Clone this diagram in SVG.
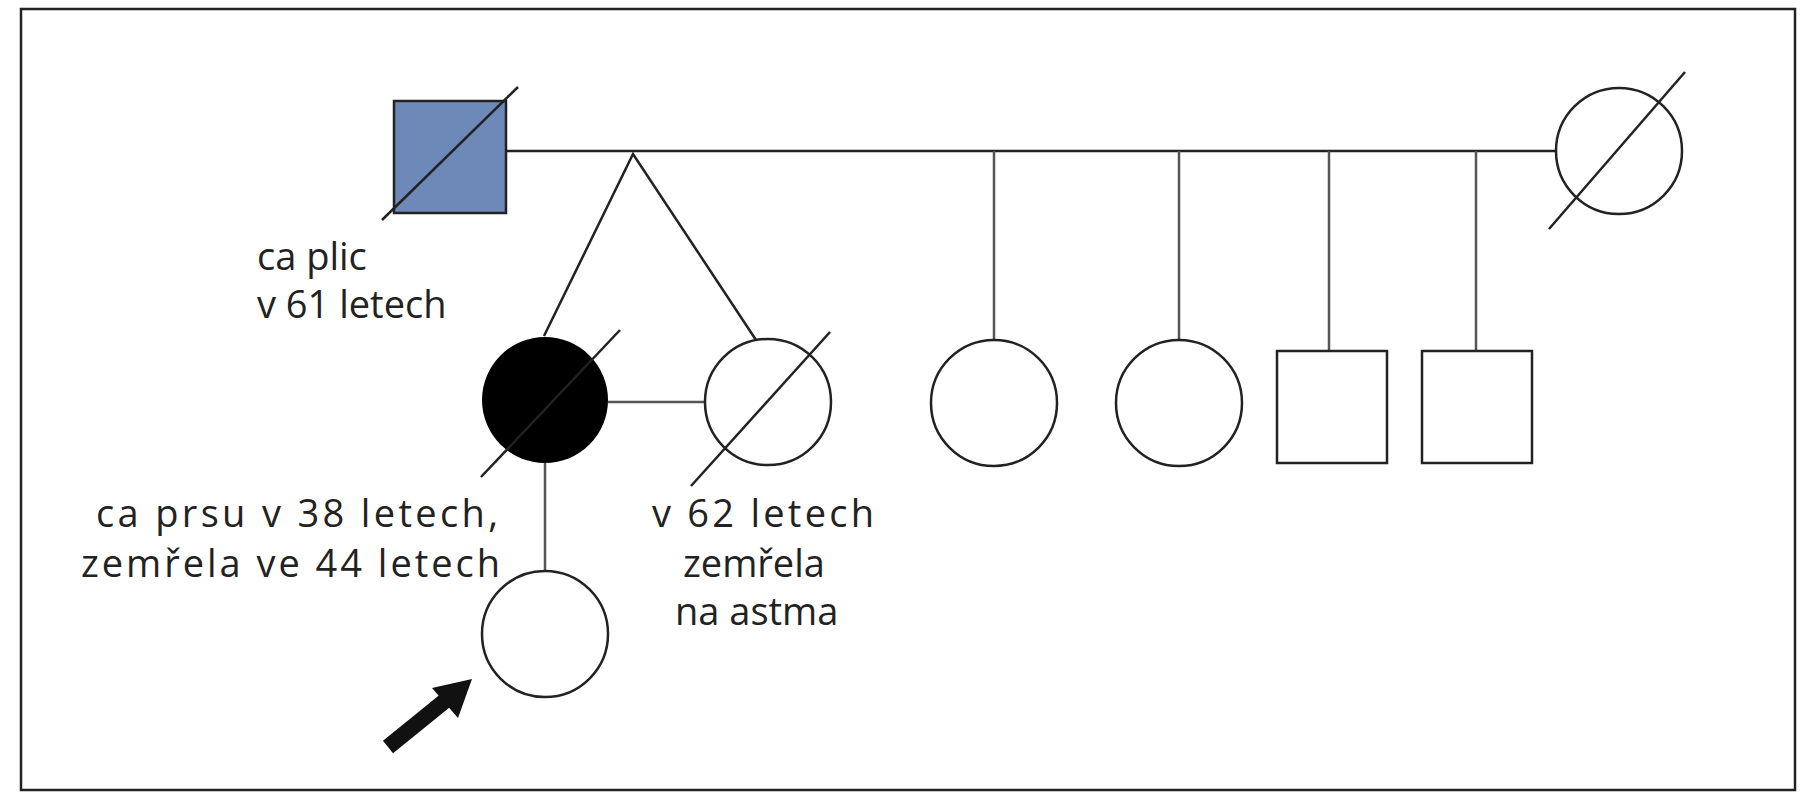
<svg xmlns="http://www.w3.org/2000/svg" width="1816" height="800" viewBox="0 0 1816 800">
<style>
.s{fill:#fff;stroke:#222;stroke-width:2.5}
.c{stroke:#555;stroke-width:2.5;fill:none}
.k{stroke:#222;stroke-width:2.5;fill:none}
text{font-family:"Open Sans","Liberation Sans",sans-serif;font-size:38px;fill:#222}
</style>
<rect x="0" y="0" width="1816" height="800" fill="#fff"/>
<rect x="21" y="9" width="1774" height="781" fill="none" stroke="#222" stroke-width="2.5"/>
<g id="connectors">
<line class="k" x1="506" y1="151" x2="1556" y2="151"/>
<polyline class="k" points="544,336 633,154 758,343"/>
<line class="c" x1="608" y1="402" x2="705" y2="402"/>
<line class="c" x1="545" y1="463" x2="545" y2="571"/>
<line class="c" x1="994" y1="151" x2="994" y2="340"/>
<line class="c" x1="1179" y1="151" x2="1179" y2="340"/>
<line class="c" x1="1329" y1="151" x2="1329" y2="351"/>
<line class="c" x1="1476" y1="151" x2="1476" y2="351"/>
</g>
<g id="father">
<rect x="394" y="101" width="112" height="112" fill="#6c89b8" stroke="#222" stroke-width="2.5"/>
<line class="k" x1="382" y1="220" x2="518" y2="87"/>
<text x="257" y="270">ca plic</text>
<text x="257" y="318">v 61 letech</text>
</g>
<g id="mother">
<ellipse class="s" cx="1619" cy="151" rx="63" ry="63"/>
<line class="k" x1="1549" y1="229" x2="1685" y2="72"/>
</g>
<g id="twin1">
<circle cx="545" cy="400" r="63" fill="#000"/>
<line class="k" x1="481" y1="477" x2="620" y2="330"/>
<text x="96" y="527" textLength="402">ca prsu v 38 letech,</text>
<text x="81" y="577" textLength="419">zemřela ve 44 letech</text>
</g>
<g id="twin2">
<circle class="s" cx="768" cy="402" r="63"/>
<line class="k" x1="691" y1="486" x2="830" y2="332"/>
<text x="652" y="527" textLength="222">v 62 letech</text>
<text x="683" y="577">zemřela</text>
<text x="675" y="625">na astma</text>
</g>
<g id="proband">
<circle class="s" cx="545" cy="634" r="63"/>
<line x1="388" y1="747" x2="446" y2="700" stroke="#111" stroke-width="16"/>
<polygon points="472,679 432,688 458,718" fill="#111"/>
</g>
<g id="sib1"><circle class="s" cx="994" cy="403" r="63"/></g>
<g id="sib2"><circle class="s" cx="1179" cy="403" r="63"/></g>
<g id="sib3"><rect class="s" x="1277" y="351" width="110" height="112"/></g>
<g id="sib4"><rect class="s" x="1422" y="351" width="110" height="112"/></g>
</svg>
